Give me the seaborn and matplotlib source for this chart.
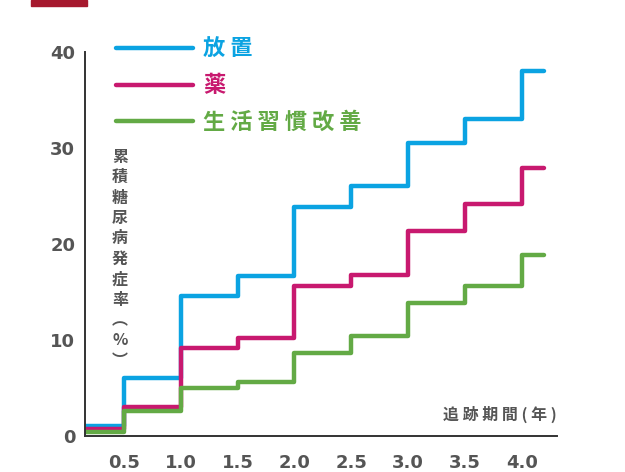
import pandas as pd
import matplotlib.pyplot as plt
import seaborn as sns

# follow-up years (step starts) and cumulative incidence (%) per group
years = [0.0, 0.5, 1.0, 1.5, 2.0, 2.5, 3.0, 3.5, 4.0, 4.2]
houchi = [1.0, 6.0, 14.6, 16.7, 23.8, 26.0, 30.5, 33.0, 38.0, 38.0]
kusuri = [0.7, 3.0, 9.2, 10.2, 15.6, 16.8, 21.3, 24.2, 27.9, 27.9]
seikatsu = [0.4, 2.6, 5.0, 5.6, 8.6, 10.4, 13.9, 15.6, 18.9, 18.9]
groups = ['放 置', '薬', ' '.join('生活習慣改善')]
colors = ['#0ba3e2', '#c8196f', '#63aa45']
xticks = [0.5, 1.0, 1.5, 2.0, 2.5, 3.0, 3.5, 4.0]
yticks = [0, 10, 20, 30, 40]

df = pd.concat([
    pd.DataFrame({'year': years, 'rate': vals, 'group': g})
    for g, vals in zip(groups, [houchi, kusuri, seikatsu])
])

sns.set_theme(style='white')
plt.rcParams['font.family'] = ['Noto Sans CJK JP', 'DejaVu Sans']

fig = plt.figure(figsize=(6.25, 4.72), dpi=100)
ax = fig.add_axes([0.136, 0.0763, 0.755, 0.8137])

sns.lineplot(data=df, x='year', y='rate', hue='group', palette=colors,
             drawstyle='steps-post', linewidth=3.2, ax=ax, legend=True)

ax.set_xlim(0.158, 4.31)
ax.set_ylim(0, 40)
ax.set_xticks(xticks)
ax.set_xticklabels([f'{t:.1f}' for t in xticks])
ax.set_yticks(yticks)
ax.tick_params(axis='both', width=1.4, color='#333333',
               labelsize=13, labelcolor='#555555')
ax.tick_params(axis='x', direction='out', length=9, pad=4)
ax.tick_params(axis='y', direction='in', length=7, pad=7)
for lab in ax.get_xticklabels() + ax.get_yticklabels():
    lab.set_fontweight('bold')
    lab.set_family(['DejaVu Sans'])
for side in ['top', 'right']:
    ax.spines[side].set_visible(False)
for side in ['left', 'bottom']:
    ax.spines[side].set_color('#333333')
    ax.spines[side].set_linewidth(1.4)
ax.set_xlabel('')
ax.set_ylabel('')

handles, labels = ax.get_legend_handles_labels()
leg = ax.legend(handles, labels, loc='upper left', bbox_to_anchor=(0.023, 1.088),
                frameon=False, handlelength=3.47, handletextpad=0.45,
                labelspacing=0.6, prop={'size': 16, 'weight': 'bold'})
for txt, c in zip(leg.get_texts(), colors):
    txt.set_color(c)
for ln in leg.get_lines():
    ln.set_linewidth(3.2)

# vertical y label
ylab = '\n'.join(list('累積糖尿病発症率') + ['︵', '%', '︶'])
ax.text(0.074, 0.748, ylab, transform=ax.transAxes, ha='center', va='top',
        fontsize=11.5, fontweight='bold', color='#555555', linespacing=1.34)

ax.text(1.0, 0.055, '追 跡 期 間 ( 年 )', transform=ax.transAxes, ha='right',
        va='center', fontsize=11.5, fontweight='bold', color='#555555')

# red bar at top left
fig.patches.append(plt.Rectangle((31 / 625, 1 - 6 / 472), 56 / 625, 6 / 472,
                                 transform=fig.transFigure, color='#a6192e'))

fig.savefig('out.png', dpi=100)
